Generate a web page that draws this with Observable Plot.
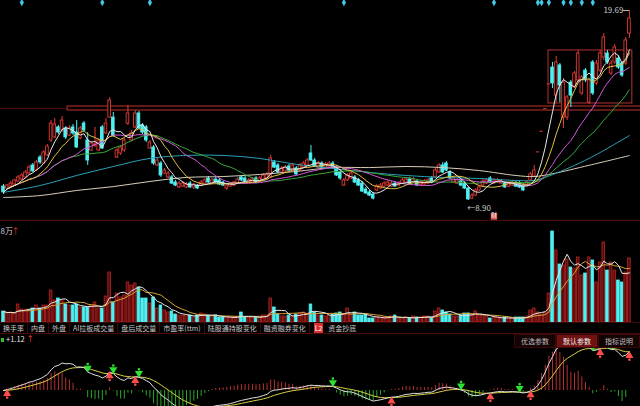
<!DOCTYPE html>
<html><head><meta charset="utf-8">
<script src="https://cdn.jsdelivr.net/npm/d3@7"></script>
<script src="https://cdn.jsdelivr.net/npm/@observablehq/plot@0.6"></script>
<style>
html,body{margin:0;padding:0;background:#000;}
#wrap{position:relative;width:640px;height:406px;background:#000;overflow:hidden;font-family:"Noto Sans CJK SC","Noto Sans",sans-serif;}
.pane{position:absolute;left:0;width:640px;overflow:hidden;}
#tabs{position:absolute;left:0;top:322px;width:640px;height:10px;border-top:1px solid #3c0808;border-bottom:1px solid #4a0b0b;display:flex;align-items:center;font-size:7px;color:#c9c9c9;white-space:nowrap;}
#tabs span{padding:0 3px;border-right:1px solid #3c0808;line-height:10px;}
#tabs span.l2{background:#d83030;color:#fff;border:none;padding:0 1px;margin:0 2px 0 4px;}
#tabs span.nob{border-right:none;}
#btns{position:absolute;top:334px;right:0;display:flex;font-size:7px;}
#btns div{height:12px;line-height:12px;padding:0 6px;background:#140303;color:#bdbdbd;border:1px solid #3a0808;}
#btns div.on{background:#6e1212;color:#f2f2f2;}
#macdlab{position:absolute;left:1px;top:333px;font-size:7.5px;color:#e6e6e6;}
#macdlab i{display:inline-block;width:3px;height:4px;background:#2ec02e;margin-right:2px;}
#macdlab b{color:#ff4040;font-weight:normal;}
</style></head>
<body><div id="wrap">
<div id="p1" class="pane" style="top:0;height:220px"></div>
<div id="p2" class="pane" style="top:220px;height:102px"></div>
<div id="tabs"></div>
<div id="p3" class="pane" style="top:334px;height:72px"></div>
<div id="macdlab"></div>
<div id="btns"></div>
</div>
<script>
// ---------- data ----------
const opens = [
9.69,9.58,9.69,9.81,9.98,10.09,10.21,10.43,10.89,10.60,
11.34,11.00,11.46,12.31,12.48,13.05,12.88,12.99,12.59,13.05,
12.76,12.42,13.27,12.31,11.74,12.02,11.74,13.05,12.71,13.61,
13.61,11.34,11.57,11.74,13.27,12.31,13.05,13.84,13.16,13.05,
11.85,11.91,10.89,11.00,10.43,10.21,10.21,9.92,9.64,9.69,
9.64,9.86,9.64,9.75,9.75,9.86,10.15,9.86,10.09,10.04,
9.92,9.58,9.69,9.75,9.86,10.21,10.15,9.92,9.92,10.15,
9.98,10.04,10.15,10.21,11.06,10.89,10.49,10.55,10.83,10.60,
10.72,10.60,10.77,10.89,11.57,11.17,10.77,11.00,10.77,10.83,
11.00,10.77,10.49,9.75,10.04,10.15,10.21,10.04,9.86,9.52,
9.36,9.24,9.47,9.58,9.69,9.75,9.69,9.86,9.75,9.86,
9.92,10.09,9.92,9.98,9.75,9.81,9.86,10.15,10.21,10.49,
10.89,11.00,10.49,9.92,9.86,9.98,9.86,9.58,9.01,9.18,
9.47,9.75,9.86,10.15,9.86,9.92,9.86,9.86,9.69,9.75,
9.86,9.86,9.75,9.75,10.04,10.26,11.66,12.83,14.11,15.52,
16.45,14.86,16.57,13.61,13.61,15.60,15.32,15.72,14.98,16.28,
14.46,16.74,15.55,16.28,17.02,17.25,16.11,16.74,16.96,16.68,
16.68,18.38];
const closes = [
9.36,9.75,9.86,10.04,10.21,10.32,10.49,10.77,10.55,11.06,
11.06,11.63,11.97,13.27,13.22,12.76,13.44,12.48,12.99,12.71,
11.91,12.99,12.88,11.17,12.14,12.08,12.31,11.85,13.27,14.58,
12.59,11.74,11.91,12.31,13.84,12.71,13.84,12.99,12.76,12.31,
12.19,11.00,11.17,10.32,10.60,10.43,9.86,9.75,9.86,9.86,
9.81,9.64,9.81,9.58,9.92,10.04,9.92,10.04,9.92,9.81,
9.75,9.75,9.86,9.92,10.09,10.04,9.98,10.04,10.09,9.92,
10.15,10.32,10.38,11.29,10.77,10.49,10.72,10.77,10.60,10.89,
10.38,10.89,11.00,11.17,11.17,10.83,11.00,10.77,10.95,11.00,
10.77,10.32,10.15,10.04,10.32,10.43,9.92,9.75,9.41,9.30,
9.18,9.01,9.69,9.75,9.86,9.92,9.86,9.69,9.86,10.04,
10.09,9.86,10.09,9.75,9.92,9.98,10.04,9.92,10.60,10.89,
10.49,10.60,10.15,10.15,10.04,9.75,9.58,8.96,9.18,9.47,
9.64,9.98,10.04,9.92,10.04,10.04,9.98,9.64,9.86,9.92,
9.69,9.64,9.47,9.92,10.38,10.60,11.66,12.83,14.11,15.52,
15.55,16.74,15.43,15.60,14.75,14.86,16.11,17.25,15.89,15.72,
15.72,14.98,16.68,17.25,18.16,16.74,16.68,17.59,16.45,16.00,
17.99,19.24];
const highs = [
9.81,9.81,9.98,10.09,10.32,10.43,10.60,10.89,11.00,11.17,
11.46,11.74,12.08,13.44,13.56,13.16,13.67,13.10,13.16,13.22,
13.44,13.10,13.39,12.76,12.25,13.05,12.42,13.16,13.56,14.75,
13.90,11.85,12.02,12.42,14.30,12.88,14.01,13.96,13.27,13.16,
12.31,12.02,11.29,11.12,10.72,10.55,10.32,10.04,9.98,9.98,
9.92,9.98,9.86,9.81,10.04,10.15,10.26,10.15,10.21,10.15,
9.98,9.81,9.92,9.98,10.21,10.32,10.26,10.15,10.21,10.26,
10.26,10.43,10.49,11.46,11.17,11.00,10.83,10.89,10.95,11.00,
10.83,11.00,11.12,11.29,12.02,11.29,11.12,11.12,11.06,11.12,
11.12,10.89,10.60,10.15,10.43,10.55,10.32,10.15,9.98,9.64,
9.47,9.36,9.81,9.86,9.98,10.04,9.98,9.98,9.98,10.15,
10.21,10.21,10.21,10.09,10.04,10.09,10.15,10.26,10.72,11.00,
11.06,11.12,10.60,10.26,10.15,10.09,9.98,9.69,9.30,9.58,
9.75,10.09,10.15,10.26,10.15,10.15,10.09,9.98,9.98,10.04,
9.98,9.98,9.86,10.04,10.49,10.89,11.66,12.83,14.11,15.52,
16.74,17.08,16.68,15.83,14.86,15.72,16.23,17.42,16.00,16.40,
15.83,16.85,16.85,17.42,18.38,17.42,16.85,17.76,17.13,16.79,
18.16,19.69];
const lows = [
9.24,9.52,9.64,9.75,9.92,10.04,10.15,10.38,10.49,10.55,
10.95,10.95,11.40,12.19,12.42,12.65,12.76,12.36,12.53,12.59,
11.85,12.36,12.76,10.89,11.68,11.91,11.68,11.80,12.65,13.56,
12.48,11.29,11.46,11.63,13.16,12.25,12.99,12.93,12.65,12.19,
11.80,10.89,10.83,10.21,10.38,10.15,9.81,9.69,9.58,9.64,
9.58,9.58,9.52,9.52,9.69,9.81,9.86,9.81,9.86,9.75,
9.69,9.47,9.64,9.69,9.81,9.98,9.92,9.86,9.86,9.86,
9.92,9.98,10.09,10.15,10.72,10.43,10.43,10.49,10.55,10.55,
10.32,10.55,10.72,10.83,11.12,10.77,10.72,10.72,10.72,10.77,
10.72,10.26,10.04,9.69,9.98,10.09,9.86,9.69,9.36,9.24,
9.13,8.93,9.41,9.52,9.64,9.69,9.64,9.64,9.69,9.81,
9.86,9.81,9.86,9.69,9.69,9.75,9.81,9.86,10.15,10.43,
10.43,10.55,10.09,9.86,9.81,9.69,9.52,8.90,8.96,9.13,
9.41,9.69,9.81,9.86,9.81,9.86,9.81,9.58,9.64,9.69,
9.64,9.58,9.41,9.69,9.98,10.21,11.66,12.83,14.11,15.52,
15.26,14.46,14.46,12.99,13.44,14.18,15.26,15.60,14.86,15.60,
14.35,14.86,15.43,16.17,16.85,16.62,16.00,16.62,16.34,15.89,
16.57,18.10];
// volume, in 万手
const vols = [
27.5,22.5,25,22.5,45,32.5,30,32.5,35,42.5,
35,42.5,42.5,80,55,60,55,45,42.5,42.5,
45,37.5,37.5,37.5,42.5,50,35,35,65,125,
50,72.5,62.5,67.5,100,92.5,97.5,87.5,60,60,
47.5,62.5,35,42.5,30,25,27.5,20,17.5,17.5,
17.5,17.5,12.5,17.5,22.5,20,17.5,15,17.5,12.5,
12.5,12.5,12.5,12.5,15,25,12.5,12.5,12.5,12.5,
15,17.5,17.5,60,37.5,20,15,15,17.5,15,
20,22.5,25,22.5,45,25,17.5,17.5,15,17.5,
20,22.5,25,20,35,20,25,17.5,17.5,20,
10,10,12.5,12.5,12.5,12.5,15,17.5,10,10,
12.5,10,15,12.5,12.5,15,15,12.5,27.5,35,
30,25,20,15,15,17.5,22.5,22.5,17.5,27.5,
17.5,17.5,15,10,12.5,12.5,10,12.5,10,10,
12.5,12.5,12.5,15,30,35,25,20,25,72.5,
227.5,180,145,142.5,157.5,137.5,135,162.5,117.5,122.5,
162.5,155,100,150,200,130,150,130,105,100,
125,160];
const ma60Idx = [0,10,20,30,40,50,60,70,80,90,100,110,120,130,140,145,150,160,171];
const ma60Val = [9.36,9.75,10.32,10.83,11.29,11.46,11.46,11.29,10.95,10.72,10.49,10.32,10.21,10.15,10.04,10.04,10.37,11.29,12.59];
const ma120Idx = [0,10,20,30,40,50,60,70,80,90,100,110,120,130,140,145,150,160,171];
const ma120Val = [9.07,9.18,9.47,9.69,9.98,10.21,10.26,10.38,10.55,10.77,10.77,10.83,10.77,10.60,10.32,10.26,10.42,10.90,11.45];
// event markers (candle index), drawn zones
const eventIdx = [5,27,40,93,134,146,147,149,153,155,158,161];
const reportIdx = [134];
const bandZone = [{from:17.5, to:176, lo:14.01, hi:14.24}];
const boxZone = [{from:148.9, to:171.8, lo:14.41, hi:17.42}];
const tabLabels = ["换手率","内盘","外盘","AI拉板成交量","盘后成交量","市盈率(ttm)","陆股通持股变化","融资融券变化"];
const tabLast = "资金抄底";
const btnLabels = ["优选参数","默认参数","指标说明"];
const volUnitLabel = "8万";
const macdLabel = "+1.12";

// ---------- derived ----------
const RED = "#e23a36", CYAN = "#4ff0f2";
const candles = closes.map((c,i)=>({i, open:opens[i], high:highs[i], low:lows[i], close:c, vol:vols[i], up:c>=opens[i]}));
function sma(arr,n){return arr.map((_,i)=>{const s=arr.slice(Math.max(0,i-n+1),i+1);return s.reduce((a,b)=>a+b,0)/s.length;});}
function ema(arr,n){const a=2/(n+1);let e=arr[0];return arr.map(v=>(e=a*v+(1-a)*e));}
const pts = a => a.map((v,i)=>({i,v}));
const xDom = [-0.82, 174.03];
const font = '"Noto Sans CJK SC","Noto Sans",sans-serif';

const maDefs = [
  {n:5, color:"#e8e8e8"},{n:10, color:"#e2c23e"},{n:20, color:"#d25ad8"},{n:30, color:"#3aa83a"}
];
const hiC = candles.reduce((a,b)=>b.high>a.high?b:a);
const loC = candles.reduce((a,b)=>b.low<a.low?b:a);

const price = Plot.plot({
  width:640, height:220, margin:0,
  x:{domain:xDom, axis:null}, y:{domain:[7.764,20.258], axis:null},
  style:{background:"transparent", fontFamily:font},
  marks:[
    Plot.ruleY(bandZone,{y:d=>(d.lo+d.hi)/2, stroke:"#4a0c0c"}),
    Plot.rect(bandZone,{x1:"from",x2:"to",y1:"lo",y2:"hi",fill:"#080000",stroke:"#b83232",strokeWidth:1}),
    Plot.rect(boxZone,{x1:"from",x2:"to",y1:"lo",y2:"hi",fill:"none",stroke:"#b83232",strokeWidth:1}),
    Plot.ruleX(candles,{x:"i",y1:"low",y2:"high",stroke:d=>d.up?RED:CYAN,strokeWidth:1}),
    Plot.rect(candles.filter(d=>d.open!==d.close),{x1:d=>d.i-0.36,x2:d=>d.i+0.36,y1:"open",y2:"close",fill:d=>d.up?"#000":CYAN,stroke:d=>d.up?RED:CYAN,strokeWidth:0.9}),
    Plot.ruleY(candles.filter(d=>d.open===d.close),{y:"close",x1:d=>d.i-0.45,x2:d=>d.i+0.45,stroke:RED}),
    Plot.line(pts(ma120Val).map((p,k)=>({i:ma120Idx[k],v:p.v})),{x:"i",y:"v",stroke:"#d8cfb6",strokeWidth:1,curve:"catmull-rom"}),
    Plot.line(pts(ma60Val).map((p,k)=>({i:ma60Idx[k],v:p.v})),{x:"i",y:"v",stroke:"#2aa0b8",strokeWidth:1,curve:"catmull-rom"}),
    ...maDefs.slice().reverse().map(m=>Plot.line(pts(sma(closes,m.n)),{x:"i",y:"v",stroke:m.color,strokeWidth:1})),
    Plot.dot(eventIdx.map(i=>({i})),{x:"i",frameAnchor:"top",dy:2,symbol:"diamond",r:2.2,fill:"#42c8e6"}),
    Plot.dot(reportIdx.map(i=>({i})),{x:"i",frameAnchor:"bottom",dy:-4,symbol:"square",r:3.6,fill:"#e05a5a"}),
    Plot.text(reportIdx.map(i=>({i})),{x:"i",frameAnchor:"bottom",dy:-4,text:()=>"财",fill:"#ffe0e0",fontSize:6}),
    Plot.ruleY([hiC],{y:"high",x1:d=>d.i-1.6,x2:"i",stroke:"#bbbbbb"}),
    Plot.text([hiC],{x:"i",y:"high",text:d=>d.high.toFixed(2),dx:-6,textAnchor:"end",fill:"#c8c8c8",fontSize:8}),
    Plot.text([loC],{x:"i",y:"low",text:d=>"←"+d.low.toFixed(2),dy:8,dx:-1,textAnchor:"start",fill:"#c8c8c8",fontSize:8})
  ]
});
document.getElementById("p1").append(price);

const volume = Plot.plot({
  width:640, height:102, margin:0,
  x:{domain:xDom, axis:null}, y:{domain:[0,255], axis:null},
  style:{background:"transparent", fontFamily:font},
  marks:[
    Plot.frame({anchor:"top", stroke:"#4a0c0c"}),
    Plot.rect(candles,{x1:d=>d.i-0.36,x2:d=>d.i+0.36,y1:0,y2:"vol",fill:d=>d.up?"#5a0c0c":CYAN,stroke:d=>d.up?"#b22424":CYAN,strokeWidth:0.8}),
    Plot.line(pts(sma(vols,10)),{x:"i",y:"v",stroke:"#d9a536",strokeWidth:1}),
    Plot.line(pts(sma(vols,5)),{x:"i",y:"v",stroke:"#e6e6e6",strokeWidth:1}),
    Plot.text([volUnitLabel],{frameAnchor:"top-left",dx:0,dy:8,fill:"#cfcfcf",fontSize:8,textAnchor:"start"}),
    Plot.text(["↑"],{frameAnchor:"top-left",dx:11,dy:8,fill:"#e03030",fontSize:8,textAnchor:"start"})
  ]
});
document.getElementById("p2").append(volume);

// MACD
const e12 = ema(closes,12), e26 = ema(closes,26);
const dif = e12.map((v,i)=>v-e26[i]);
const dea = ema(dif,9);
const macd = candles.map((d,i)=>({i, dif:dif[i], dea:dea[i], h:2*(dif[i]-dea[i])}));
const golden = [], dead = [];
for (let i=1;i<macd.length;i++){
  const a=macd[i-1].dif-macd[i-1].dea, b=macd[i].dif-macd[i].dea;
  if (a<=0 && b>0) golden.push(macd[i]);
  if (a>=0 && b<0) dead.push(macd[i]);
}
const macdPlot = Plot.plot({
  width:640, height:72, margin:0,
  x:{domain:xDom, axis:null}, y:{domain:[-0.544,1.905], axis:null},
  style:{background:"transparent", fontFamily:font},
  marks:[
    Plot.ruleX(macd,{x:"i",y1:0,y2:"h",stroke:d=>d.h>=0?"#b83030":"#2aa82a",strokeWidth:1}),
    Plot.line(macd,{x:"i",y:"dea",stroke:"#d8d040",strokeWidth:1}),
    Plot.line(macd,{x:"i",y:"dif",stroke:"#e0e0e0",strokeWidth:1}),
    Plot.dot(dead,{x:"i",y:"dif",symbol:"triangle",rotate:180,r:3,fill:"#30e030",dy:-4}),
    Plot.dot(dead,{x:"i",y:"dif",symbol:"square",r:1.3,fill:"#30e030",dy:-8}),
    Plot.dot(golden,{x:"i",y:"dif",symbol:"triangle",r:3,fill:"#ff4a4a",dy:4}),
    Plot.dot(golden,{x:"i",y:"dif",symbol:"square",r:1.3,fill:"#ff4a4a",dy:8})
  ]
});
document.getElementById("p3").append(macdPlot);

// tabs, buttons, label
const tabs = document.getElementById("tabs");
tabLabels.forEach(t=>{const s=document.createElement("span");s.textContent=t;tabs.append(s);});
const l2=document.createElement("span");l2.className="l2";l2.textContent="L2";tabs.append(l2);
const last=document.createElement("span");last.className="nob";last.textContent=tabLast;tabs.append(last);
const btns = document.getElementById("btns");
btnLabels.forEach((t,k)=>{const d=document.createElement("div");d.textContent=t;if(k===1)d.className="on";btns.append(d);});
document.getElementById("macdlab").innerHTML = '<i></i>'+macdLabel+' <b>↑</b>';
</script></body></html>
